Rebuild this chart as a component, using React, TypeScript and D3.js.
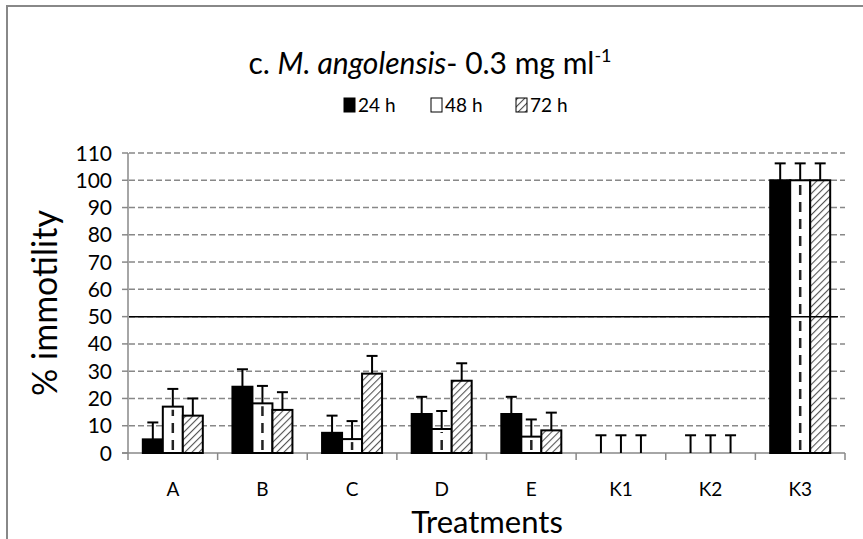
import React from "react";
import * as d3 from "d3";

const categories = ["A", "B", "C", "D", "E", "K1", "K2", "K3"];
const seriesNames = ["24 h", "48 h", "72 h"];
const values24 = [5, 24.3, 7.4, 14.3, 14.3, 0, 0, 100];
const values48 = [17, 18.2, 5.1, 8.8, 6.0, 0, 0, 100];
const values72 = [13.7, 15.8, 29.1, 26.5, 8.3, 0, 0, 100];
const err24 = [6.2, 6.4, 6.3, 6.3, 6.3, 6.5, 6.5, 6.2];
const err48 = [6.5, 6.4, 6.6, 6.6, 6.3, 6.5, 6.5, 6.2];
const err72 = [6.3, 6.5, 6.5, 6.4, 6.5, 6.5, 6.5, 6.2];
const yTicks = [0, 10, 20, 30, 40, 50, 60, 70, 80, 90, 100, 110];

const FONT = "Lato, 'Open Sans', sans-serif";

export default function App() {
  const W = 863, H = 539;
  const x = d3.scaleBand<string>().domain(categories).range([128, 845]).padding(0);
  const y = d3.scaleLinear().domain([0, 110]).range([453, 153]);
  const groupW = 60;
  const sub = d3.scaleBand<string>().domain(seriesNames).range([0, groupW]).padding(0);
  const vals = [values24, values48, values72];
  const errs = [err24, err48, err72];
  const fills = ["#000", "#fff", "url(#hatch)"];

  const bars: React.ReactNode[] = [];
  const overlays: React.ReactNode[] = [];
  const errBars: React.ReactNode[] = [];
  categories.forEach((c, ci) => {
    const cx = (x(c) as number) + x.bandwidth() / 2;
    const gx = cx - groupW / 2;
    seriesNames.forEach((s, si) => {
      const v = vals[si][ci];
      const bx = gx + (sub(s) as number);
      const bw = sub.bandwidth();
      const top = y(v);
      if (v > 0) {
        bars.push(
          <rect key={`b${ci}-${si}`} x={bx} y={top} width={bw} height={y(0) - top}
            fill={fills[si]} stroke="#000" strokeWidth={2} />
        );
        if (si === 1) {
          overlays.push(
            <line key={`d${ci}`} x1={bx + bw / 2} x2={bx + bw / 2} y1={y(0) - 3} y2={top + 3}
              stroke="#222" strokeWidth={2.5} strokeDasharray="10 7" />
          );
        }
      }
      const et = y(v + errs[si][ci]);
      const ex = bx + bw / 2;
      errBars.push(
        <g key={`e${ci}-${si}`} stroke="#000" strokeWidth={2}>
          <line x1={ex} x2={ex} y1={top} y2={et} />
          <line x1={ex - 5.5} x2={ex + 5.5} y1={et} y2={et} />
        </g>
      );
    });
  });

  const legendItems = [
    { x: 343, label: "24 h", fill: "#000" },
    { x: 430, label: "48 h", fill: "#fff" },
    { x: 515, label: "72 h", fill: "url(#hatch)" },
  ];

  return (
    <svg width={W} height={H} style={{ position: "absolute", left: 0, top: 0 }}>
      <defs>
        <pattern id="hatch" patternUnits="userSpaceOnUse" width={5} height={5} patternTransform="rotate(45)">
          <rect width={5} height={5} fill="#fff" />
          <line x1={0} y1={0} x2={0} y2={5} stroke="#555" strokeWidth={2.2} />
        </pattern>
      </defs>
      <rect x={0} y={0} width={W} height={H} fill="#fff" />
      <line x1={7} x2={863} y1={6} y2={6} stroke="#888" strokeWidth={2} />
      <line x1={7} x2={7} y1={5} y2={539} stroke="#888" strokeWidth={2} />

      <text x={430} y={74} textAnchor="middle" fontFamily={FONT} fontSize={30} fill="#000">
        c. <tspan fontStyle="italic">M. angolensis</tspan>- 0.3 mg ml<tspan dy={-12} fontSize={18}>-1</tspan>
      </text>

      {legendItems.map((it, i) => (
        <g key={i}>
          <rect x={it.x + 1} y={98} width={11} height={14} fill={it.fill} stroke="#000" strokeWidth={1} />
          <text x={it.x + 15} y={112} fontFamily={FONT} fontSize={19} fill="#000">{it.label}</text>
        </g>
      ))}

      {yTicks.filter((t) => t !== 0).map((t) => (
        <line key={t} x1={129} x2={845} y1={y(t)} y2={y(t)} stroke="#888" strokeWidth={1.5} strokeDasharray="6 3" />
      ))}

      <line x1={128} x2={128} y1={y(110)} y2={y(0)} stroke="#888" strokeWidth={1.5} />
      {yTicks.map((t) => (
        <line key={`t${t}`} x1={122} x2={128} y1={y(t)} y2={y(t)} stroke="#888" strokeWidth={1.5} />
      ))}
      <line x1={122} x2={845} y1={y(0)} y2={y(0)} stroke="#888" strokeWidth={1.5} />
      {categories.map((c) => (
        <line key={`xt${c}`} x1={x(c) as number} x2={x(c) as number} y1={y(0)} y2={y(0) + 7} stroke="#888" strokeWidth={1.5} />
      ))}
      <line x1={845} x2={845} y1={y(0)} y2={y(0) + 7} stroke="#888" strokeWidth={1.5} />

      {bars}
      {overlays}
      {errBars}
      <line x1={129} x2={838} y1={y(50)} y2={y(50)} stroke="#000" strokeWidth={1.5} />

      {yTicks.map((t) => (
        <text key={`yl${t}`} x={112} y={y(t) + 7.5} textAnchor="end" fontFamily={FONT} fontSize={21} fill="#000">{t}</text>
      ))}
      {categories.map((c) => (
        <text key={`xl${c}`} x={(x(c) as number) + x.bandwidth() / 2} y={496} textAnchor="middle" fontFamily={FONT} fontSize={19} fill="#000">{c}</text>
      ))}
      <text x={487} y={533} textAnchor="middle" fontFamily={FONT} fontSize={31} fill="#000">Treatments</text>
      <text transform={`translate(57,${y(55)}) rotate(-90)`} textAnchor="middle" fontFamily={FONT} fontSize={34} fill="#000">% immotility</text>
    </svg>
  );
}
